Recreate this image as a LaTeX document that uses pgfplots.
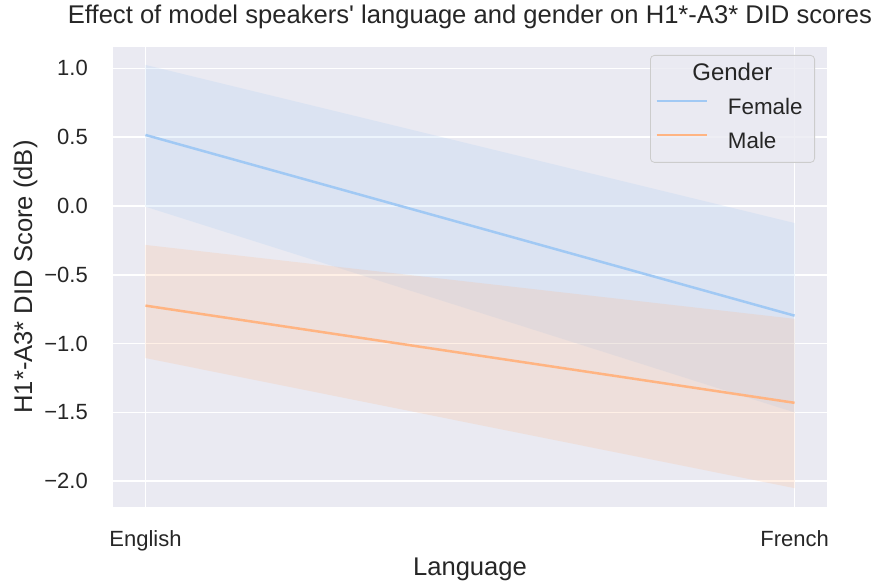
\documentclass[border=0pt]{standalone}
\usepackage{pgfplots}
\pgfplotsset{compat=1.18}
\usepackage{pgfplotstable}
\usepgfplotslibrary{fillbetween}
\usepackage{fontspec}
\setmainfont{Liberation Sans}
\newfontfamily\plainquotes{Liberation Sans}[Ligatures=TeXOff]

\definecolor{sbbg}{HTML}{EAEAF2}
\definecolor{sbtext}{HTML}{262626}
\definecolor{femc}{HTML}{A1C9F4}
\definecolor{malc}{HTML}{FFB482}
\definecolor{legedge}{HTML}{CCCCCC}

% language  mean  ci-low  ci-high
\pgfplotstableread{
x mean lo hi
0 0.516 -0.005 1.025
1 -0.797 -1.50 -0.124
}\female
\pgfplotstableread{
x mean lo hi
0 -0.724 -1.105 -0.283
1 -1.43 -2.05 -0.82
}\male

\begin{document}
\begin{tikzpicture}
\begin{axis}[
  scale only axis,
  width=714pt, height=460pt,
  xmin=-0.05, xmax=1.05,
  ymin=-2.187, ymax=1.155,
  axis background/.style={fill=sbbg},
  axis line style={draw=none},
  tick style={draw=none},
  grid=major,
  major grid style={white, line width=1.6pt},
  xtick={0,1}, xticklabels={English,French},
  ytick={-2,-1.5,-1,-0.5,0,0.5,1},
  yticklabels={−2.0,−1.5,−1.0,−0.5,0.0,0.5,1.0},
  tick label style={font=\fontsize{22}{26}\selectfont, text=sbtext, inner sep=0pt},
  xticklabel style={anchor=north, yshift=-23pt},
  yticklabel style={anchor=east, xshift=-25pt},
  title={Effect of model speakers' language and gender on H1*-A3* DID scores},
  title style={at={(axis description cs:0.5,1)}, anchor=base, yshift=17pt,
    inner sep=0pt, font=\plainquotes\fontsize{25.6}{30}\selectfont, text=sbtext},
  xlabel={Language},
  xlabel style={at={(axis description cs:0.5,0)}, anchor=base, yshift=-68pt,
    inner sep=0pt, font=\fontsize{25.6}{30}\selectfont, text=sbtext},
  ylabel={H1*-A3* DID Score (dB)},
  ylabel style={at={(axis description cs:-0.1134,0.5)}, anchor=base,
    inner sep=0pt, font=\fontsize{25.6}{30}\selectfont, text=sbtext},
  legend image code/.code={\draw[#1] (0pt,8pt) -- (50pt,8pt);},
  legend cell align=left,
  legend style={at={(axis description cs:1,1)}, anchor=north east,
    xshift=-12pt, yshift=-8pt,
    draw=legedge, fill=sbbg, fill opacity=0.8, text opacity=1,
    rounded corners=4pt, line width=0.8pt,
    inner xsep=5pt, inner ysep=9pt, row sep=13pt, column sep=0pt,
    font=\fontsize{22.4}{26}\selectfont, text=sbtext,
    nodes={inner sep=0pt, text height=16pt, text depth=5pt},
  },
]
\addlegendimage{empty legend}
\addlegendentry{\makebox[0pt][c]{\hspace*{48pt}\fontsize{24}{28}\selectfont Gender}}

% Female
\addplot[femc, line width=2.5pt] table[x=x, y=mean]{\female};
\addlegendentry{\hspace*{20pt}Female\hspace*{7pt}}
\addplot[name path=fhi, draw=none, forget plot] table[x=x, y=hi]{\female};
\addplot[name path=flo, draw=none, forget plot] table[x=x, y=lo]{\female};
\addplot[femc, fill opacity=0.2, draw=none, forget plot] fill between[of=fhi and flo];

% Male
\addplot[malc, line width=2.5pt] table[x=x, y=mean]{\male};
\addlegendentry{\hspace*{20pt}Male}
\addplot[name path=mhi, draw=none, forget plot] table[x=x, y=hi]{\male};
\addplot[name path=mlo, draw=none, forget plot] table[x=x, y=lo]{\male};
\addplot[malc, fill opacity=0.2, draw=none, forget plot] fill between[of=mhi and mlo];
\end{axis}
\pgfresetboundingbox
\path[use as bounding box] (-113pt,-74pt) rectangle (760pt,507pt);
\end{tikzpicture}
\end{document}
